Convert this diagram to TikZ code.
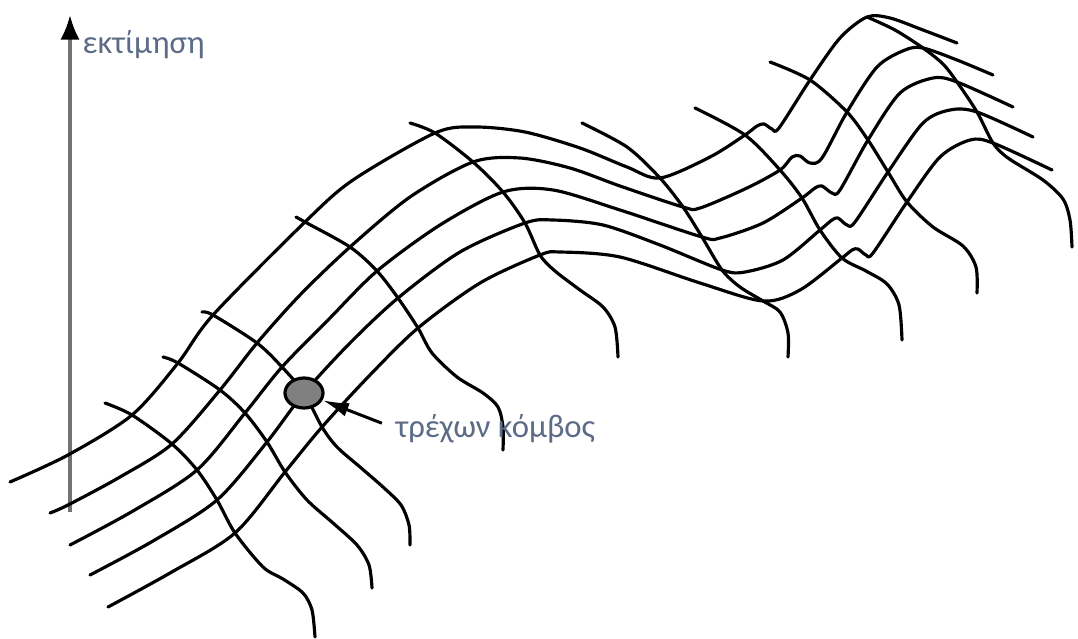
\documentclass[tikz,border=0pt]{standalone}
\usepackage{fontspec}
\setmainfont{Carlito}
\usetikzlibrary{shapes,arrows.meta,positioning}
\definecolor{labelgray}{RGB}{92,108,134}

\begin{document}
\begin{tikzpicture}[
    x=0.01cm, y=-0.01cm,
    mesh/.style={draw, line width=0.9pt, line cap=round, line join=round},
    axisline/.style={draw, line width=1pt, black!55, -{Latex[length=7pt,width=5.5pt,color=black]}},
    knot/.style={ellipse, draw, line width=0.9pt, fill=black!50, minimum width=0.38cm, minimum height=0.30cm, inner sep=0pt},
    lbl/.style={text=labelgray, font=\fontsize{9.3}{11}\selectfont, inner sep=0pt},
    pointer/.style={draw, line width=0.85pt, -{Latex[length=7.5pt,width=4pt]}, shorten <=4pt}
]
    \useasboundingbox (0,0) rectangle (1078,639);

    % Axis
    \coordinate (axbot) at (70,512);
    \coordinate (axtop) at (70,15);
    \path [axisline] (axbot) -- (axtop);
    \node [lbl, anchor=base west] (est) at (82,53) {εκτίμηση};

    % Rows
    \draw [mesh] plot[smooth] coordinates {(10,482) (68,455) (132,415) (178,363) (213,315) (305,222) (353,180) (435,133) (475,127) (525,132) (580,148) (627,167) (660,178) (710,157) (745,135) (757,126) (764,124) (772,129) (779,128) (810,80) (840,38) (867,17) (890,18) (923,30) (957,43)};
    \draw [mesh] plot[smooth] coordinates {(50,513) (68,505) (120,477) (172,444) (220,390) (257,343) (300,295) (350,247) (410,197) (473,162) (520,158) (570,168) (620,186) (683,207) (700,208) (747,188) (780,170) (792,157) (800,156) (810,163) (822,158) (847,112) (877,67) (905,50) (923,48) (957,60) (993,75)};
    \draw [mesh] plot[smooth] coordinates {(70,545) (133,511) (197,470) (245,413) (282,367) (330,318) (377,271) (440,225) (503,192) (553,190) (620,210) (702,237) (720,238) (763,223) (802,198) (815,188) (822,186) (832,193) (840,190) (868,140) (900,93) (933,78) (957,82) (1013,107)};
    \draw [mesh] plot[smooth] coordinates {(90,575) (153,541) (217,500) (267,442) (304,393) (350,343) (398,298) (460,252) (525,223) (553,220) (603,225) (660,245) (722,270) (745,272) (783,260) (820,230) (832,220) (838,218) (847,225) (855,222) (888,172) (923,123) (950,110) (977,112) (1033,137)};
    \draw [mesh] plot[smooth] coordinates {(108,607) (170,573) (235,533) (285,472) (322,427) (370,375) (418,328) (480,283) (540,255) (560,252) (620,257) (700,283) (763,301) (800,290) (842,258) (852,250) (858,249) (866,255) (873,253) (907,202) (940,157) (970,140) (993,143) (1052,170)};

    % Cross lines
    \draw [mesh] plot[smooth] coordinates {(105,403) (132,415) (172,444) (197,470) (217,500) (235,533) (263,567) (283,579) (303,593) (312,610) (315,637)};
    \draw [mesh] plot[smooth] coordinates {(163,357) (178,363) (220,390) (245,413) (267,442) (285,472) (307,500) (333,523) (357,545) (369,565) (372,588)};
    \draw [mesh] plot[smooth] coordinates {(202,312) (213,315) (257,343) (282,367) (304,393) (322,427) (337,447) (360,467) (383,487) (401,505) (409,525) (410,545)};
    \draw [mesh] plot[smooth] coordinates {(296,217) (305,222) (350,247) (377,271) (398,298) (418,328) (432,353) (457,377) (483,393) (498,407) (503,427) (503,450)};
    \draw [mesh] plot[smooth] coordinates {(410,123) (435,133) (473,162) (503,192) (525,223) (540,255) (555,271) (580,290) (603,307) (615,327) (618,357)};
    \draw [mesh] plot[smooth] coordinates {(582,123) (627,147) (660,178) (683,207) (702,237) (722,270) (740,287) (763,301) (780,312) (788,333) (788,357)};
    \draw [mesh] plot[smooth] coordinates {(695,108) (745,135) (780,170) (802,198) (820,230) (842,258) (866,271) (887,284) (899,305) (902,340)};
    \draw [mesh] plot[smooth] coordinates {(770,62) (810,80) (847,112) (868,140) (888,172) (907,202) (933,227) (963,246) (976,267) (977,293)};
    \draw [mesh] plot[smooth] coordinates {(867,17) (895,30) (923,48) (943,64) (957,82) (977,112) (993,143) (1008,158) (1043,180) (1063,199) (1070,220) (1072,247)};

    % Current node
    \node [knot] (cur) at (304,393) {};
    \node [lbl, anchor=base west] (curlbl) at (395,437) {τρέχων κόμβος};
    \path [pointer] (curlbl.west) -- (cur);

\end{tikzpicture}
\end{document}
